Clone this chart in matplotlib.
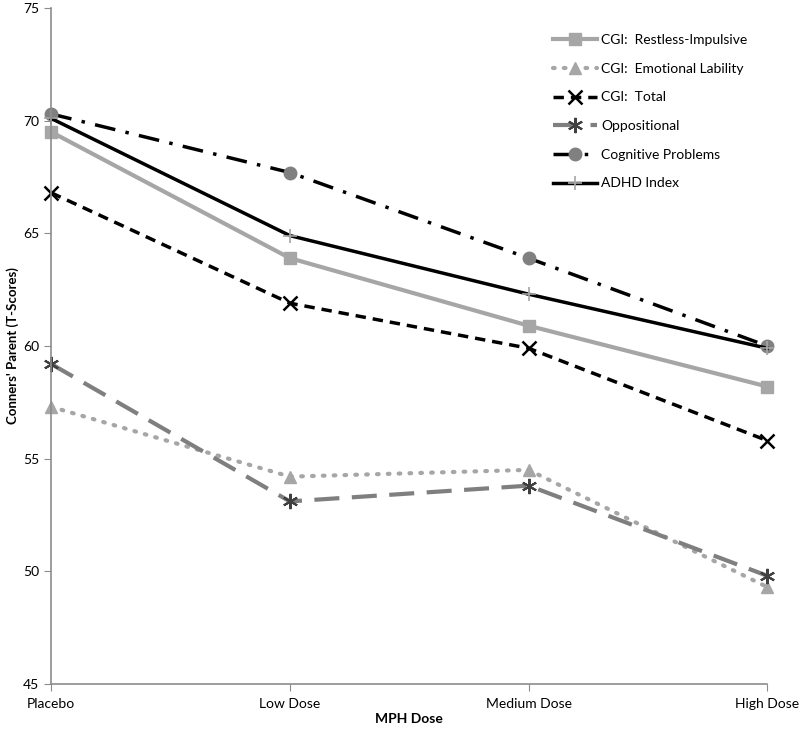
import matplotlib.pyplot as plt

doses = ['Placebo', 'Low Dose', 'Medium Dose', 'High Dose']

restless = [69.5, 63.9, 60.9, 58.2]
emotional = [57.3, 54.2, 54.5, 49.3]
cgi_total = [66.8, 61.9, 59.9, 55.8]
oppositional = [59.2, 53.1, 53.8, 49.8]
cognitive = [70.3, 67.7, 63.9, 60.0]
adhd = [70.1, 64.9, 62.3, 59.9]

plt.rcParams['font.family'] = ['Lato', 'DejaVu Sans']

fig = plt.figure(figsize=(8, 7.33), dpi=100)
ax = fig.add_axes([0.064, 0.067, 0.895, 0.922])

x = range(len(doses))
ax.plot(x, restless, color='#a6a6a6', lw=3, marker='s', ms=8,
        label='CGI:  Restless-Impulsive', clip_on=False)
ax.plot(x, emotional, color='#a6a6a6', lw=3, ls=(0, (0.4, 2.2)),
        dash_capstyle='round', marker='^', ms=9,
        label='CGI:  Emotional Lability', clip_on=False)
ax.plot(x, cgi_total, color='black', lw=2.5, ls=(0, (3, 2)),
        marker='x', ms=10, mew=1.8, label='CGI:  Total', clip_on=False)
ax.plot(x, oppositional, color='#7f7f7f', lw=3, ls=(0, (6, 3)),
        marker=(6, 2, 0), ms=11, mec='#404040', mew=1.5,
        label='Oppositional', clip_on=False)
ax.plot(x, cognitive, color='black', lw=2.5, ls=(0, (6, 3, 1, 3)),
        marker='o', ms=9, mfc='#808080', mec='#808080',
        label='Cognitive Problems', clip_on=False)
ax.plot(x, adhd, color='black', lw=2.5, marker='+', ms=10,
        mec='#a6a6a6', mew=1.2, label='ADHD Index', clip_on=False)

ax.set_xlim(0, 3)
ax.set_ylim(45, 75)
ax.set_yticks(range(45, 80, 5))
ax.set_xticks(list(x))
ax.set_xticklabels(doses)

for s in ['top', 'right']:
    ax.spines[s].set_visible(False)
for s in ['left', 'bottom']:
    ax.spines[s].set_color('#8c8c8c')
    ax.spines[s].set_linewidth(1.2)
ax.tick_params(colors='#8c8c8c', labelcolor='black', labelsize=10,
               direction='out', length=5)
ax.tick_params(axis='x', pad=5)

ax.set_xlabel('MPH Dose', fontsize=10, fontweight='bold', labelpad=2)
ax.set_ylabel("Conners' Parent (T-Scores)", fontsize=9.5, fontweight='bold',
              labelpad=3)

ax.legend(loc='upper right', bbox_to_anchor=(0.99, 0.98), frameon=False,
          fontsize=10, handlelength=3.2, labelspacing=1.2, handletextpad=0.3)

fig.savefig('out.png', dpi=100)
